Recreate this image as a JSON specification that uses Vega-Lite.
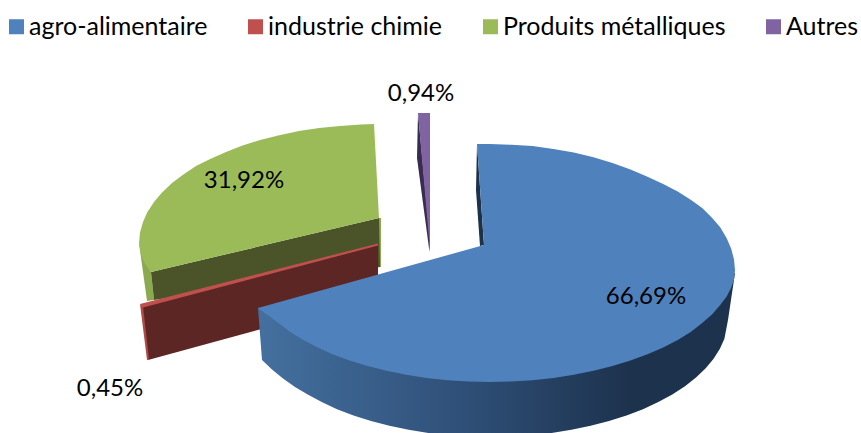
{
  "$schema": "https://vega.github.io/schema/vega-lite/v6.json",
  "description": "Exploded 3D pie of sector shares. Slice outlines are hand-placed points on a 861 by 433 plane, so the slice sizes are not computed from share.",
  "autosize": {"type": "fit", "contains": "padding"},
  "width": 861,
  "height": 433,
  "padding": 0,
  "background": "white",
  "config": {"view": {"stroke": null}, "font": "Lato"},
  "datasets": {
    "shares": [
      {"slice": "agro-alimentaire", "share": 66.69, "label": "66,69%", "lx": 646, "ly": 297},
      {"slice": "industrie chimie", "share": 0.45, "label": "0,45%", "lx": 110, "ly": 389},
      {"slice": "Produits métalliques", "share": 31.92, "label": "31,92%", "lx": 244, "ly": 181},
      {"slice": "Autres", "share": 0.94, "label": "0,94%", "lx": 421, "ly": 94}
    ],
    "sides": [
      {"part": "green rim", "i": 1, "x": 139, "y": 243},
      {"part": "green rim", "i": 2, "x": 147, "y": 301},
      {"part": "green rim", "i": 3, "x": 154, "y": 300},
      {"part": "green rim", "i": 4, "x": 151, "y": 272},
      {"part": "green edge", "i": 1, "x": 379, "y": 218},
      {"part": "green edge", "i": 2, "x": 381, "y": 218},
      {"part": "green edge", "i": 3, "x": 381, "y": 267},
      {"part": "green edge", "i": 4, "x": 379, "y": 267},
      {"part": "green cut", "i": 1, "x": 151, "y": 272},
      {"part": "green cut", "i": 2, "x": 379, "y": 218},
      {"part": "green cut", "i": 3, "x": 380, "y": 267},
      {"part": "green cut", "i": 4, "x": 154, "y": 300},
      {"part": "red cut", "i": 1, "x": 141, "y": 307},
      {"part": "red cut", "i": 2, "x": 378, "y": 245},
      {"part": "red cut", "i": 3, "x": 378, "y": 297},
      {"part": "red cut", "i": 4, "x": 148, "y": 360},
      {"part": "red rim", "i": 1, "x": 140, "y": 304},
      {"part": "red rim", "i": 2, "x": 143, "y": 306},
      {"part": "red rim", "i": 3, "x": 149, "y": 360},
      {"part": "red rim", "i": 4, "x": 147, "y": 360},
      {"part": "purple cut", "i": 1, "x": 418, "y": 113},
      {"part": "purple cut", "i": 2, "x": 417, "y": 158},
      {"part": "purple cut", "i": 3, "x": 429.5, "y": 252},
      {"part": "purple cut", "i": 4, "x": 430, "y": 240},
      {"part": "blue cut", "i": 1, "x": 477, "y": 144},
      {"part": "blue cut", "i": 2, "x": 476, "y": 190},
      {"part": "blue cut", "i": 3, "x": 480, "y": 246},
      {"part": "blue cut", "i": 4, "x": 484, "y": 245}
    ],
    "wall": [
      {"i": 1, "x": 258, "y": 308},
      {"i": 2, "x": 262, "y": 360},
      {"i": 3, "x": 272, "y": 369.5},
      {"i": 4, "x": 283, "y": 378.5},
      {"i": 5, "x": 295, "y": 387},
      {"i": 6, "x": 307.7, "y": 394.5},
      {"i": 7, "x": 321.7, "y": 402.1},
      {"i": 8, "x": 337, "y": 409.2},
      {"i": 9, "x": 353.5, "y": 415.5},
      {"i": 10, "x": 371, "y": 421},
      {"i": 11, "x": 389.4, "y": 425.8},
      {"i": 12, "x": 408.6, "y": 429.8},
      {"i": 13, "x": 428.4, "y": 433},
      {"i": 14, "x": 448.7, "y": 435.2},
      {"i": 15, "x": 469.3, "y": 436.5},
      {"i": 16, "x": 490, "y": 437},
      {"i": 17, "x": 510.7, "y": 436.5},
      {"i": 18, "x": 531.3, "y": 435.2},
      {"i": 19, "x": 551.6, "y": 433},
      {"i": 20, "x": 571.4, "y": 429.8},
      {"i": 21, "x": 590.6, "y": 425.8},
      {"i": 22, "x": 609, "y": 421},
      {"i": 23, "x": 626.5, "y": 415.5},
      {"i": 24, "x": 643, "y": 409.2},
      {"i": 25, "x": 658.3, "y": 402.1},
      {"i": 26, "x": 672.3, "y": 394.5},
      {"i": 27, "x": 685, "y": 386.3},
      {"i": 28, "x": 696, "y": 377.5},
      {"i": 29, "x": 705.7, "y": 368.3},
      {"i": 30, "x": 713.6, "y": 358.7},
      {"i": 31, "x": 719.9, "y": 348.8},
      {"i": 32, "x": 724.4, "y": 338.7},
      {"i": 33, "x": 728, "y": 320},
      {"i": 34, "x": 735, "y": 273},
      {"i": 35, "x": 490, "y": 300}
    ],
    "tops": [
      {"slice": "Produits métalliques", "i": 1, "x": 374, "y": 124},
      {"slice": "Produits métalliques", "i": 2, "x": 360.8, "y": 124.5},
      {"slice": "Produits métalliques", "i": 3, "x": 340, "y": 126},
      {"slice": "Produits métalliques", "i": 4, "x": 319.1, "y": 128},
      {"slice": "Produits métalliques", "i": 5, "x": 299, "y": 131},
      {"slice": "Produits métalliques", "i": 6, "x": 279.3, "y": 135.2},
      {"slice": "Produits métalliques", "i": 7, "x": 260, "y": 140},
      {"slice": "Produits métalliques", "i": 8, "x": 242.6, "y": 145.5},
      {"slice": "Produits métalliques", "i": 9, "x": 226, "y": 152},
      {"slice": "Produits métalliques", "i": 10, "x": 210.2, "y": 158.9},
      {"slice": "Produits métalliques", "i": 11, "x": 196, "y": 166},
      {"slice": "Produits métalliques", "i": 12, "x": 183, "y": 174.7},
      {"slice": "Produits métalliques", "i": 13, "x": 172, "y": 183},
      {"slice": "Produits métalliques", "i": 14, "x": 161.8, "y": 192.7},
      {"slice": "Produits métalliques", "i": 15, "x": 154, "y": 202},
      {"slice": "Produits métalliques", "i": 16, "x": 147.3, "y": 212.2},
      {"slice": "Produits métalliques", "i": 17, "x": 143, "y": 222},
      {"slice": "Produits métalliques", "i": 18, "x": 140, "y": 232.6},
      {"slice": "Produits métalliques", "i": 19, "x": 139, "y": 243},
      {"slice": "Produits métalliques", "i": 20, "x": 141, "y": 255},
      {"slice": "Produits métalliques", "i": 21, "x": 145, "y": 264},
      {"slice": "Produits métalliques", "i": 22, "x": 151, "y": 272},
      {"slice": "Produits métalliques", "i": 23, "x": 379, "y": 218},
      {"slice": "industrie chimie", "i": 1, "x": 140, "y": 304},
      {"slice": "industrie chimie", "i": 2, "x": 378, "y": 243.5},
      {"slice": "industrie chimie", "i": 3, "x": 378, "y": 245.5},
      {"slice": "industrie chimie", "i": 4, "x": 143, "y": 307.5},
      {"slice": "Autres", "i": 1, "x": 418, "y": 113},
      {"slice": "Autres", "i": 2, "x": 430, "y": 113},
      {"slice": "Autres", "i": 3, "x": 430, "y": 250},
      {"slice": "agro-alimentaire", "i": 1, "x": 477, "y": 144},
      {"slice": "agro-alimentaire", "i": 2, "x": 490, "y": 144},
      {"slice": "agro-alimentaire", "i": 3, "x": 511.4, "y": 144.8},
      {"slice": "agro-alimentaire", "i": 4, "x": 532.5, "y": 146},
      {"slice": "agro-alimentaire", "i": 5, "x": 553.4, "y": 149},
      {"slice": "agro-alimentaire", "i": 6, "x": 573.8, "y": 152.5},
      {"slice": "agro-alimentaire", "i": 7, "x": 593.5, "y": 157.2},
      {"slice": "agro-alimentaire", "i": 8, "x": 612.5, "y": 163},
      {"slice": "agro-alimentaire", "i": 9, "x": 630.5, "y": 169.5},
      {"slice": "agro-alimentaire", "i": 10, "x": 647.5, "y": 176.8},
      {"slice": "agro-alimentaire", "i": 11, "x": 663.2, "y": 184},
      {"slice": "agro-alimentaire", "i": 12, "x": 677.7, "y": 191.5},
      {"slice": "agro-alimentaire", "i": 13, "x": 690.7, "y": 199.7},
      {"slice": "agro-alimentaire", "i": 14, "x": 702.2, "y": 208},
      {"slice": "agro-alimentaire", "i": 15, "x": 712, "y": 217.7},
      {"slice": "agro-alimentaire", "i": 16, "x": 720.2, "y": 227.3},
      {"slice": "agro-alimentaire", "i": 17, "x": 726.7, "y": 238.2},
      {"slice": "agro-alimentaire", "i": 18, "x": 731.3, "y": 249},
      {"slice": "agro-alimentaire", "i": 19, "x": 734, "y": 259.6},
      {"slice": "agro-alimentaire", "i": 20, "x": 735, "y": 270},
      {"slice": "agro-alimentaire", "i": 21, "x": 734, "y": 279.5},
      {"slice": "agro-alimentaire", "i": 22, "x": 731, "y": 288},
      {"slice": "agro-alimentaire", "i": 23, "x": 726.7, "y": 296.5},
      {"slice": "agro-alimentaire", "i": 24, "x": 720.2, "y": 305},
      {"slice": "agro-alimentaire", "i": 25, "x": 712, "y": 314.5},
      {"slice": "agro-alimentaire", "i": 26, "x": 702.2, "y": 323},
      {"slice": "agro-alimentaire", "i": 27, "x": 690.7, "y": 332},
      {"slice": "agro-alimentaire", "i": 28, "x": 677.7, "y": 340},
      {"slice": "agro-alimentaire", "i": 29, "x": 663.2, "y": 347.5},
      {"slice": "agro-alimentaire", "i": 30, "x": 647.5, "y": 354.2},
      {"slice": "agro-alimentaire", "i": 31, "x": 630.5, "y": 360.5},
      {"slice": "agro-alimentaire", "i": 32, "x": 612.5, "y": 366},
      {"slice": "agro-alimentaire", "i": 33, "x": 593.5, "y": 370.8},
      {"slice": "agro-alimentaire", "i": 34, "x": 573.8, "y": 374.8},
      {"slice": "agro-alimentaire", "i": 35, "x": 553.4, "y": 378},
      {"slice": "agro-alimentaire", "i": 36, "x": 532.5, "y": 380.2},
      {"slice": "agro-alimentaire", "i": 37, "x": 511.4, "y": 381.5},
      {"slice": "agro-alimentaire", "i": 38, "x": 490, "y": 382},
      {"slice": "agro-alimentaire", "i": 39, "x": 468.6, "y": 381.5},
      {"slice": "agro-alimentaire", "i": 40, "x": 447.5, "y": 380.2},
      {"slice": "agro-alimentaire", "i": 41, "x": 426.6, "y": 378},
      {"slice": "agro-alimentaire", "i": 42, "x": 406.2, "y": 374.8},
      {"slice": "agro-alimentaire", "i": 43, "x": 386.5, "y": 370.8},
      {"slice": "agro-alimentaire", "i": 44, "x": 367.5, "y": 366},
      {"slice": "agro-alimentaire", "i": 45, "x": 349.5, "y": 360.5},
      {"slice": "agro-alimentaire", "i": 46, "x": 332.5, "y": 354.2},
      {"slice": "agro-alimentaire", "i": 47, "x": 316.8, "y": 347.1},
      {"slice": "agro-alimentaire", "i": 48, "x": 302.3, "y": 339.5},
      {"slice": "agro-alimentaire", "i": 49, "x": 289.3, "y": 331.3},
      {"slice": "agro-alimentaire", "i": 50, "x": 277.8, "y": 322.5},
      {"slice": "agro-alimentaire", "i": 51, "x": 267.5, "y": 315},
      {"slice": "agro-alimentaire", "i": 52, "x": 258, "y": 308},
      {"slice": "agro-alimentaire", "i": 53, "x": 484, "y": 245}
    ]
  },
  "encoding": {
    "x": {"type": "quantitative", "scale": {"domain": [0, 861], "nice": false, "zero": false}, "axis": null},
    "y": {"type": "quantitative", "scale": {"domain": [433, 0], "nice": false, "zero": false}, "axis": null}
  },
  "layer": [
    {
      "data": {"name": "sides"},
      "mark": {"type": "line", "interpolate": "linear-closed", "strokeWidth": 0, "clip": true},
      "encoding": {
        "x": {"field": "x"},
        "y": {"field": "y"},
        "order": {"field": "i"},
        "detail": {"field": "part"},
        "fill": {
          "field": "part",
          "type": "nominal",
          "legend": null,
          "scale": {
            "domain": ["green rim", "green edge", "green cut", "red cut", "red rim", "purple cut", "blue cut"],
            "range": ["#8BAA50", "#8BAA50", "#4B5428", "#5C2624", "#B04A47", "#3A2C50", "#1D3149"]
          }
        }
      }
    },
    {
      "data": {"name": "wall"},
      "mark": {
        "type": "line",
        "interpolate": "linear-closed",
        "strokeWidth": 0,
        "clip": true,
        "fill": {
          "gradient": "linear",
          "x1": 0, "y1": 0, "x2": 1, "y2": 0,
          "stops": [
            {"offset": 0, "color": "#44709F"},
            {"offset": 0.45, "color": "#2E4E76"},
            {"offset": 0.78, "color": "#1D324D"},
            {"offset": 1, "color": "#1D324D"}
          ]
        }
      },
      "encoding": {
        "x": {"field": "x"},
        "y": {"field": "y"},
        "order": {"field": "i"}
      }
    },
    {
      "data": {"name": "tops"},
      "mark": {"type": "line", "interpolate": "linear-closed", "strokeWidth": 0, "clip": true},
      "encoding": {
        "x": {"field": "x"},
        "y": {"field": "y"},
        "order": {"field": "i"},
        "detail": {"field": "slice"},
        "fill": {
          "field": "slice",
          "type": "nominal",
          "sort": null,
          "scale": {
            "domain": ["agro-alimentaire", "industrie chimie", "Produits métalliques", "Autres"],
            "range": ["#4F81BD", "#C0504D", "#9BBB59", "#8064A2"]
          },
          "legend": {
            "title": null,
            "orient": "none",
            "legendX": 4,
            "legendY": 14,
            "direction": "horizontal",
            "columns": 4,
            "columnPadding": 35,
            "padding": 0,
            "symbolType": "square",
            "symbolSize": 225,
            "symbolStrokeWidth": 0,
            "symbolOpacity": 1,
            "labelFont": "Lato",
            "labelFontSize": 25,
            "labelColor": "#000000",
            "labelOffset": 0,
            "labelLimit": 400
          }
        }
      }
    },
    {
      "data": {"name": "shares"},
      "mark": {"type": "text", "font": "Lato", "fontSize": 24, "align": "center", "baseline": "middle", "color": "#000000"},
      "encoding": {
        "x": {"field": "lx"},
        "y": {"field": "ly"},
        "text": {"field": "label"}
      }
    }
  ],
  "resolve": {"scale": {"fill": "independent"}}
}
